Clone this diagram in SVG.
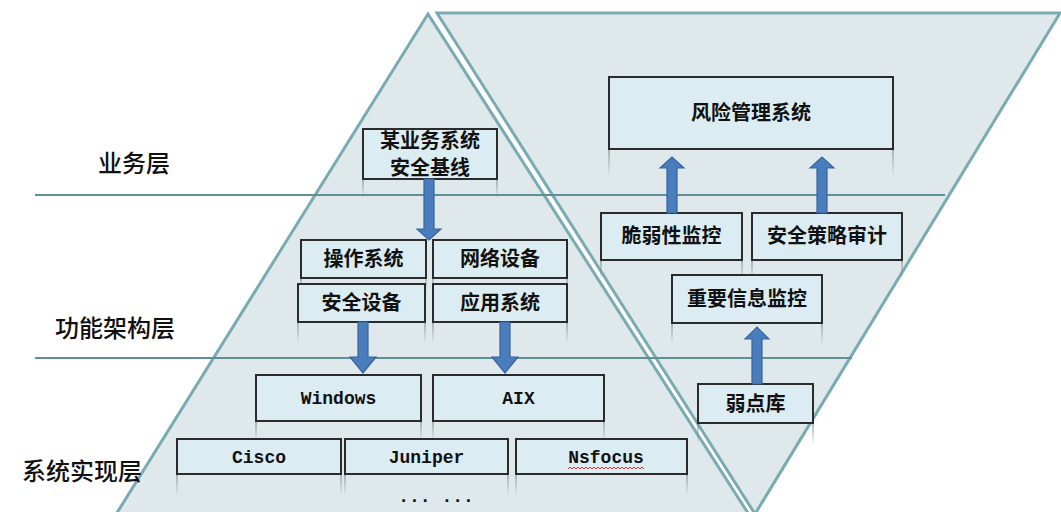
<svg xmlns="http://www.w3.org/2000/svg" width="1061" height="512" viewBox="0 0 1061 512">
<defs>
<linearGradient id="refl" x1="0" y1="0" x2="0" y2="1">
<stop offset="0" stop-color="#7a8a90" stop-opacity="0.6"/>
<stop offset="1" stop-color="#7a8a90" stop-opacity="0"/>
</linearGradient>
<style>
.tri{fill:#dfe9ec;stroke:#7aabb3;stroke-width:3;stroke-linejoin:miter}
.hl{stroke:#5f8f97;stroke-width:1.8;fill:none}
.box rect{fill:#dbedf3;stroke:#2b2b2b;stroke-width:2}
.cjk{font-family:"Noto Sans CJK SC","Noto Sans",sans-serif;font-weight:700;font-size:20px;fill:#111;text-anchor:middle}
.lbl{font-family:"Noto Sans CJK SC","Noto Sans",sans-serif;font-weight:500;font-size:24px;fill:#111}
.mono{font-family:"Liberation Mono","DejaVu Sans Mono",monospace;font-weight:700;font-size:18px;fill:#111;text-anchor:middle}
.arr{fill:#4a7dbd;stroke:#38659c;stroke-width:1.2}
.rf{fill:none;stroke:url(#refl);stroke-width:2}
</style>
</defs>
<g id="background">
<polygon class="tri" points="428,14 110,524 755,524"/>
<polygon class="tri" points="437,13 1060,13 755,514"/>
<line class="hl" x1="35" y1="195" x2="945" y2="195"/>
<line class="hl" x1="35" y1="358" x2="852" y2="358"/>
</g>
<g id="labels">
<text class="lbl" x="98" y="172">业务层</text>
<text class="lbl" x="55" y="337">功能架构层</text>
<text class="lbl" x="22" y="480">系统实现层</text>
</g>
<g id="reflections">
<rect class="rf" x="363" y="179" width="134" height="20"/>
<rect class="rf" x="301" y="278" width="125" height="14"/>
<rect class="rf" x="433" y="278" width="134" height="14"/>
<rect class="rf" x="298" y="322" width="127" height="22"/>
<rect class="rf" x="433" y="322" width="134" height="22"/>
<rect class="rf" x="256" y="421" width="165" height="22"/>
<rect class="rf" x="433" y="421" width="171" height="22"/>
<rect class="rf" x="177" y="474" width="164" height="22"/>
<rect class="rf" x="345" y="474" width="163" height="22"/>
<rect class="rf" x="516" y="474" width="171" height="22"/>
<rect class="rf" x="609" y="149" width="284" height="28"/>
<rect class="rf" x="601" y="260" width="141" height="22"/>
<rect class="rf" x="752" y="260" width="150" height="22"/>
<rect class="rf" x="672" y="323" width="150" height="22"/>
<rect class="rf" x="698" y="423" width="115" height="22"/>
</g>
<g id="node-baseline" class="box">
<rect x="363" y="129" width="134" height="50"/>
<text class="cjk" x="430" y="148" font-size="18">某业务系统</text>
<text class="cjk" x="430" y="175" font-size="18">安全基线</text>
</g>
<g id="node-os" class="box">
<rect x="301" y="240" width="125" height="38"/>
<text class="cjk" x="363.5" y="266">操作系统</text>
</g>
<g id="node-net" class="box">
<rect x="433" y="240" width="134" height="38"/>
<text class="cjk" x="500" y="266">网络设备</text>
</g>
<g id="node-secdev" class="box">
<rect x="298" y="284" width="127" height="38"/>
<text class="cjk" x="361.5" y="310">安全设备</text>
</g>
<g id="node-app" class="box">
<rect x="433" y="284" width="134" height="38"/>
<text class="cjk" x="500" y="310">应用系统</text>
</g>
<g id="node-windows" class="box">
<rect x="256" y="375" width="165" height="46"/>
<text class="mono" x="338.5" y="404">Windows</text>
</g>
<g id="node-aix" class="box">
<rect x="433" y="375" width="171" height="46"/>
<text class="mono" x="518.5" y="404">AIX</text>
</g>
<g id="node-cisco" class="box">
<rect x="177" y="439" width="164" height="35"/>
<text class="mono" x="259" y="463">Cisco</text>
</g>
<g id="node-juniper" class="box">
<rect x="345" y="439" width="163" height="35"/>
<text class="mono" x="426.5" y="463">Juniper</text>
</g>
<g id="node-nsfocus" class="box">
<rect x="516" y="439" width="171" height="35"/>
<text class="mono" x="606" y="463">Nsfocus</text>
<polyline points="568,469 570,467 572,469 574,467 576,469 578,467 580,469 582,467 584,469 586,467 588,469 590,467 592,469 594,467 596,469 598,467 600,469 602,467 604,469 606,467 608,469 610,467 612,469 614,467 616,469 618,467 620,469 622,467 624,469 626,467 628,469 630,467 632,469 634,467 636,469 638,467 640,469 642,467 644,469" fill="none" stroke="#e03030" stroke-width="1"/>
</g>
<g id="ellipsis">
<text class="mono" x="436" y="502" font-size="16">... ...</text>
</g>
<g id="node-risk" class="box">
<rect x="609" y="77" width="284" height="72"/>
<text class="cjk" x="751" y="120">风险管理系统</text>
</g>
<g id="node-vuln" class="box">
<rect x="601" y="213" width="141" height="47"/>
<text class="cjk" x="671.5" y="243">脆弱性监控</text>
</g>
<g id="node-audit" class="box">
<rect x="752" y="213" width="150" height="47"/>
<text class="cjk" x="827" y="243">安全策略审计</text>
</g>
<g id="node-info" class="box">
<rect x="672" y="275" width="150" height="48"/>
<text class="cjk" x="747" y="306">重要信息监控</text>
</g>
<g id="node-weak" class="box">
<rect x="698" y="384" width="115" height="39"/>
<text class="cjk" x="755.5" y="411">弱点库</text>
</g>
<g id="connectors">
<polygon class="arr" points="424,179 434,179 434,229 441,229 429,240 417,229 424,229"/>
<polygon class="arr" points="358,322 368,322 368,357 376,357 363,373 350,357 358,357"/>
<polygon class="arr" points="500,322 510,322 510,357 518,357 505,373 492,357 500,357"/>
<polygon class="arr" points="667,213 677,213 677,168 684,168 672,157 660,168 667,168"/>
<polygon class="arr" points="817,213 827,213 827,168 834,168 822,157 810,168 817,168"/>
<polygon class="arr" points="752,384 762,384 762,339 769,339 757,327 745,339 752,339"/>
</g>
</svg>
